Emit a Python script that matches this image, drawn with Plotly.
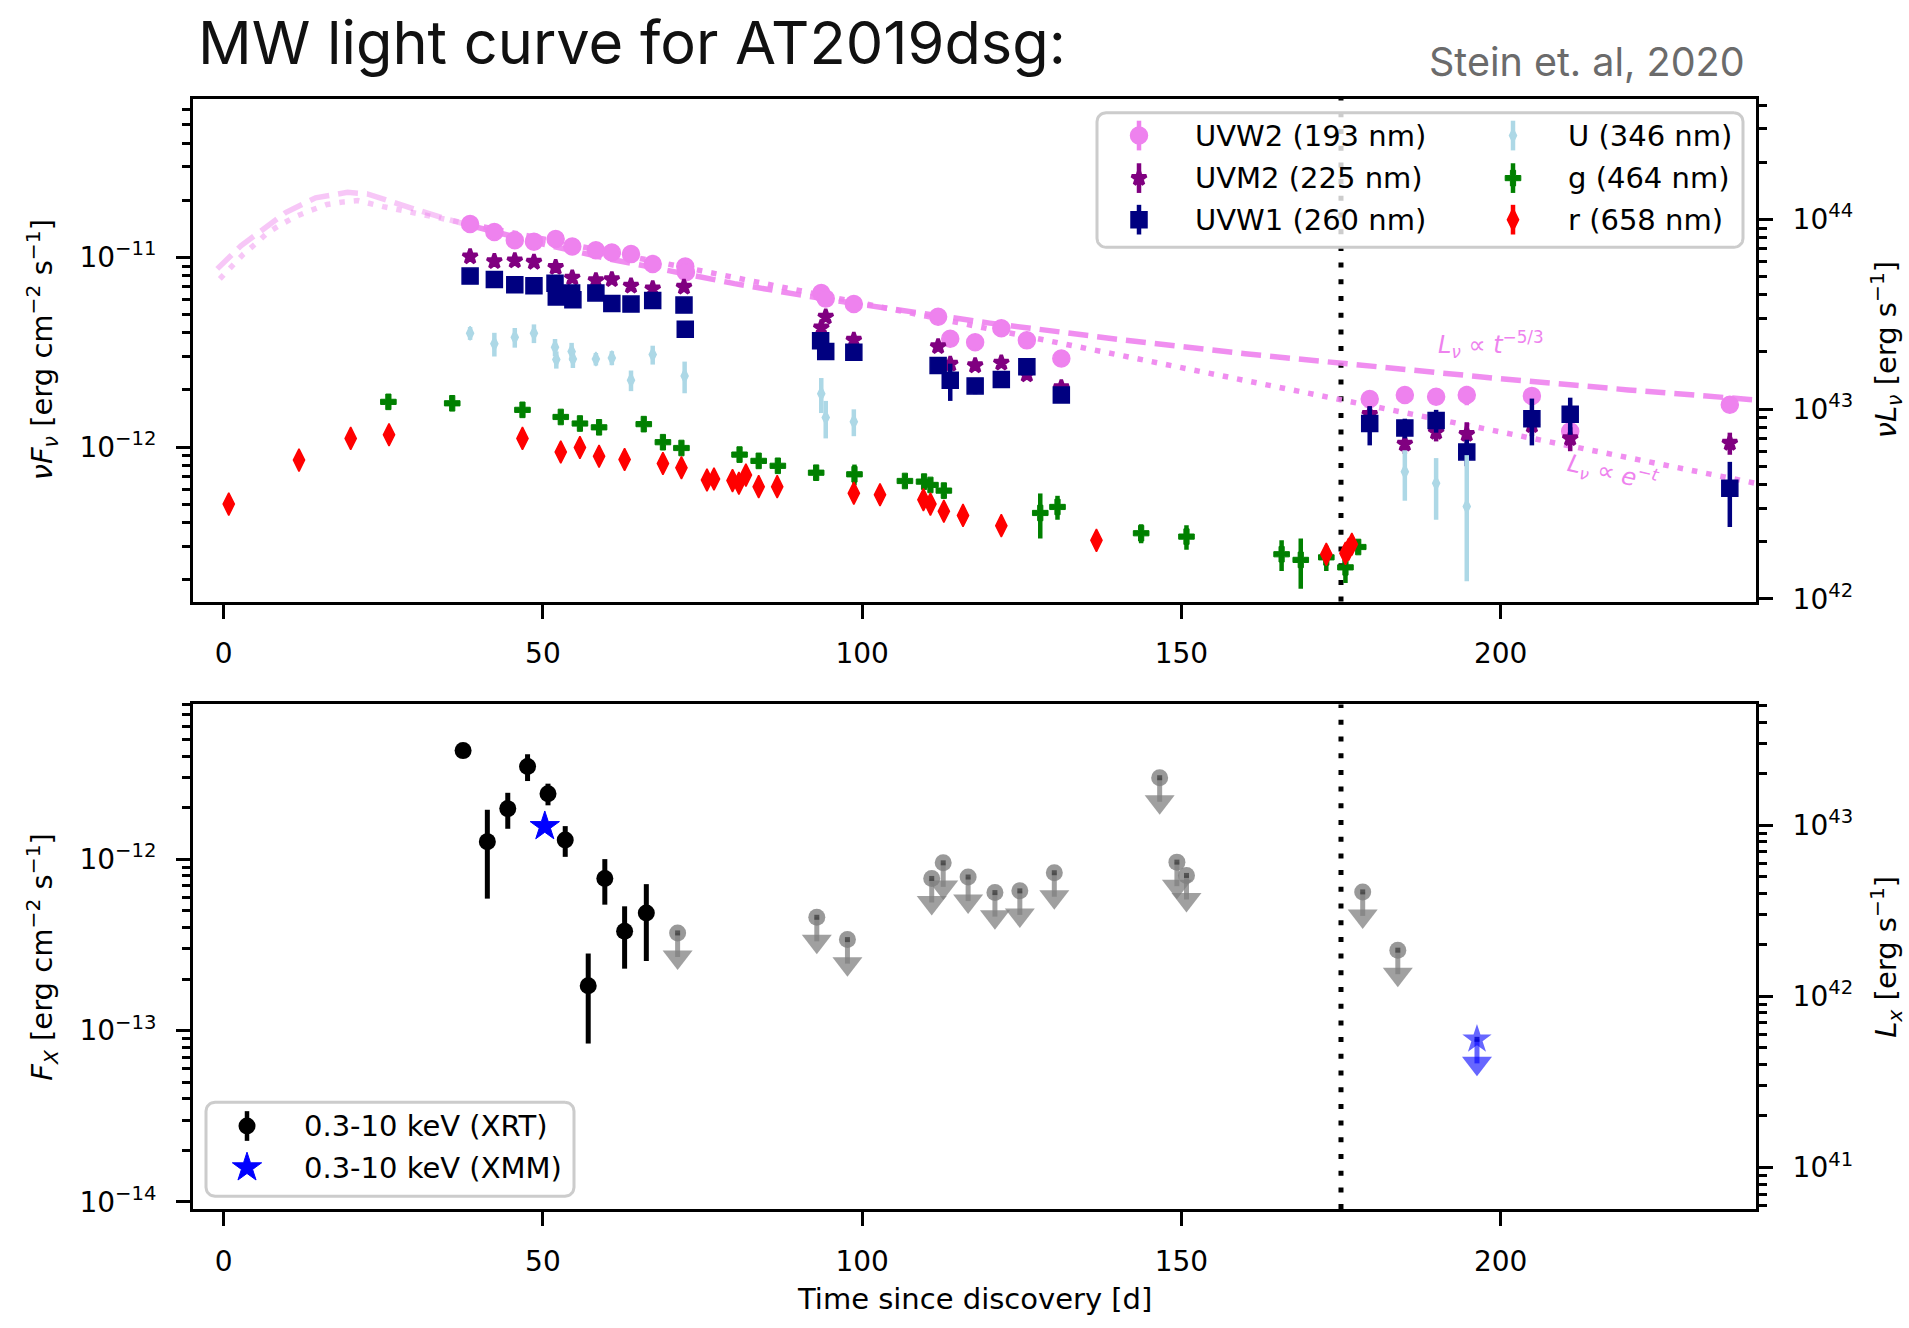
import math
import plotly.graph_objects as go

W, H = 1909, 1328

# ---------------------------------------------------------------------------
# UV / optical photometry of AT2019dsg
# time since discovery [d], nuFnu [1e-12 erg cm^-2 s^-1], 1-sigma errors
# ---------------------------------------------------------------------------
uvw2_t = [38.6, 42.4, 45.6, 48.6, 52.0, 54.6, 58.3, 60.8, 63.8, 67.2, 72.3, 72.4,
          93.6, 94.3, 98.7, 111.9, 113.8, 117.7, 121.8, 125.8, 131.2,
          179.5, 185.0, 189.9, 194.7, 204.9, 210.9, 235.9]
uvw2_f = [15.0, 13.6, 12.3, 12.1, 12.5, 11.4, 10.9, 10.6, 10.4, 9.23, 8.94, 8.35,
          6.49, 6.06, 5.67, 4.86, 3.72, 3.57, 4.23, 3.65, 2.93,
          1.79, 1.88, 1.84, 1.88, 1.86, 1.21, 1.67]
uvw2_e = [0.4, 0.35, 0.3, 0.3, 0.35, 0.3, 0.3, 0.3, 0.3, 0.25, 0.25, 0.25,
          0.2, 0.2, 0.18, 0.15, 0.12, 0.12, 0.13, 0.12, 0.1,
          0.15, 0.12, 0.14, 0.22, 0.17, 0.1, 0.15]

uvm2_t = [38.6, 42.4, 45.6, 48.6, 52.0, 54.6, 58.3, 60.8, 63.8, 67.2, 72.1,
          93.6, 94.3, 98.7, 111.9, 113.8, 117.7, 121.8, 125.8, 131.2,
          179.5, 185.0, 189.9, 194.7, 204.9, 210.9, 235.9]
uvm2_f = [10.1, 9.53, 9.61, 9.45, 8.87, 7.80, 7.55, 7.65, 7.08, 6.84, 6.98,
          4.26, 4.86, 3.67, 3.39, 2.74, 2.69, 2.78, 2.41, 2.06,
          1.49, 1.04, 1.20, 1.17, 1.30, 1.11, 1.05]
uvm2_e = [0.3, 0.3, 0.3, 0.3, 0.4, 0.35, 0.3, 0.3, 0.3, 0.3, 0.3,
          0.25, 0.25, 0.15, 0.2, 0.2, 0.15, 0.15, 0.15, 0.12,
          0.15, 0.12, 0.13, 0.18, 0.16, 0.16, 0.14]

uvw1_t = [38.6, 42.4, 45.6, 48.6, 51.9, 52.1, 54.5, 54.7, 58.3, 60.8, 63.8, 67.2, 72.1, 72.3,
          93.5, 94.3, 98.7, 111.9, 113.8, 117.7, 121.8, 125.8, 131.2,
          179.5, 185.0, 189.9, 194.7, 204.9, 210.9, 235.9]
uvw1_f = [7.96, 7.65, 7.17, 7.08, 7.31, 6.18, 6.49, 5.98, 6.49, 5.71, 5.67, 5.92, 5.60, 4.18,
          3.63, 3.19, 3.16, 2.69, 2.25, 2.10, 2.27, 2.65, 1.88,
          1.33, 1.26, 1.38, 0.942, 1.41, 1.49, 0.607]
uvw1_e = [0.3, 0.3, 0.3, 0.3, 0.5, 0.5, 0.45, 0.45, 0.3, 0.3, 0.3, 0.3, 0.3, 0.3,
          0.3, 0.3, 0.25, 0.25, 0.5, 0.2, 0.2, 0.25, 0.15,
          0.31, 0.15, 0.19, 0.15, 0.39, 0.33, 0.228]

u_t = [38.6, 42.4, 45.6, 48.6, 51.9, 52.1, 54.5, 54.7, 58.3, 60.8, 63.8, 67.2, 72.2,
       93.6, 94.3, 98.7, 185.0, 189.9, 194.7]
u_f = [3.98, 3.50, 3.79, 3.98, 3.36, 2.89, 3.19, 2.91, 2.91, 2.95, 2.25, 3.07, 2.37,
       1.91, 1.43, 1.36, 0.741, 0.644, 0.486]
u_e_hi = [0.31, 0.5, 0.45, 0.45, 0.35, 0.3, 0.35, 0.3, 0.22, 0.25, 0.28, 0.35, 0.45,
          0.4, 0.32, 0.22, 0.22, 0.23, 0.42]
u_e_lo = [0.31, 0.5, 0.45, 0.45, 0.35, 0.3, 0.35, 0.3, 0.22, 0.25, 0.28, 0.35, 0.45,
          0.4, 0.32, 0.22, 0.22, 0.23, 0.29]

g_t = [25.8, 35.8, 46.8, 52.8, 55.8, 58.8, 65.8, 68.8, 71.7, 80.8, 83.8, 86.8, 92.8, 98.8,
       106.7, 109.7, 110.7, 112.8, 127.9, 130.6, 143.7, 150.8, 165.7, 168.7, 172.7, 175.7, 177.7]
g_f = [1.73, 1.70, 1.57, 1.44, 1.33, 1.27, 1.32, 1.06, 0.988, 0.912, 0.845, 0.796, 0.732, 0.718,
       0.662, 0.657, 0.631, 0.589, 0.449, 0.483, 0.351, 0.337, 0.272, 0.254, 0.262, 0.232, 0.297]
g_e = [0.08, 0.08, 0.08, 0.09, 0.08, 0.08, 0.07, 0.08, 0.07, 0.06, 0.06, 0.06, 0.05, 0.09,
       0.05, 0.06, 0.05, 0.05, 0.12, 0.07, 0.04, 0.05, 0.05, 0.075, 0.04, 0.04, 0.02]

r_t = [0.8, 11.8, 19.9, 25.9, 46.8, 52.8, 55.8, 58.8, 62.8, 68.8, 71.7, 75.7, 76.8, 79.7, 80.7,
       81.8, 83.8, 86.7, 98.7, 102.8, 109.6, 110.7, 112.8, 115.8, 121.8, 136.7,
       172.7, 175.7, 176.2, 176.7]
r_f = [0.500, 0.853, 1.11, 1.16, 1.11, 0.941, 0.993, 0.894, 0.859, 0.819, 0.777, 0.670, 0.678,
       0.665, 0.644, 0.711, 0.618, 0.618, 0.571, 0.560, 0.527, 0.500, 0.458, 0.436, 0.385,
       0.322, 0.272, 0.275, 0.289, 0.307]
r_e = [0.04, 0.05, 0.06, 0.06, 0.06, 0.05, 0.05, 0.05, 0.04, 0.05, 0.05, 0.03, 0.03, 0.03, 0.03,
       0.03, 0.03, 0.03, 0.03, 0.03, 0.03, 0.03, 0.03, 0.02, 0.02, 0.02, 0.02, 0.02, 0.02, 0.02]

# UVW2 decline models [1e-12 erg cm^-2 s^-1]
model_t = [-1.0, 2.7, 5.5, 9.7, 14.4, 19.4, 22.5, 25.0, 27.5, 30.0, 35.0, 38.5, 45.0, 50.0,
           60.0, 70.0, 80.0, 90.0, 100.0, 120.0, 140.0, 160.0, 180.0, 200.0, 220.0, 240.0]
powerlaw_f = [8.69, 11.5, 13.5, 17.2, 20.6, 22.0, 21.6, 20.2, 19.0, 17.9, 15.9, 14.75, 12.9, 11.75,
              9.86, 8.41, 7.27, 6.36, 5.63, 4.50, 3.70, 3.10, 2.65, 2.29, 2.00, 1.77]
expdecay_t = [-0.6, 1.1, 3.1, 5.0, 6.9, 9.0, 11.4, 13.7, 16.2, 18.8, 21.0, 25.0, 30.0, 38.5,
              50.0, 60.0, 80.0, 100.0, 120.0, 140.0, 160.0, 180.0, 200.0, 220.0, 240.0]
expdecay_f = [7.7, 8.94, 10.4, 11.8, 13.5, 14.9, 16.5, 17.7, 19.0, 19.6, 19.9, 18.5, 17.1, 14.98,
              12.5, 10.7, 7.83, 5.73, 4.19, 3.07, 2.24, 1.64, 1.20, 0.879, 0.643]
FIRST_UV_DAY = 38.5

# ---------------------------------------------------------------------------
# X-ray, 0.3-10 keV [1e-12 erg cm^-2 s^-1]
# ---------------------------------------------------------------------------
xrt_t = [37.5, 41.3, 44.5, 47.6, 50.8, 53.5, 57.1, 59.7, 62.8, 66.2]
xrt_f = [4.32, 1.27, 1.98, 3.49, 2.42, 1.30, 0.183, 0.774, 0.381, 0.486]
xrt_e = [0.08, 0.68, 0.47, 0.62, 0.35, 0.265, 0.099, 0.23, 0.151, 0.231]
xmm_t = [50.3]
xmm_f = [1.56]
xrt_ul_t = [71.1, 92.9, 97.7, 110.9, 112.7, 116.6, 120.8, 124.7, 130.1, 146.6, 149.3, 150.8,
            178.4, 183.9]
xrt_ul_f = [0.372, 0.459, 0.340, 0.774, 0.955, 0.789, 0.640, 0.655, 0.836, 3.00, 0.964, 0.806,
            0.646, 0.295]
xmm_ul_t = [196.3]
xmm_ul_f = [0.0889]

SECOND_EPOCH_DAY = 175.0
LUM_DEX = 54.80          # log10(4 pi d_L^2) converting flux to luminosity
UNIT = 1e-12

# ---------------------------------------------------------------------------
# geometry (pixels -> paper fractions)
# ---------------------------------------------------------------------------
X_DOM = [193 / W, 1756 / W]
TOP_DOM = [1 - 608 / H, 1 - 100 / H]
BOT_DOM = [1 - 1222 / H, 1 - 712 / H]
XR = [-4.8, 240.0]
TOP_YR = [-12.815, -10.165]
BOT_YR = [-14.043, -11.095]

FONT = "DejaVu Sans"
FS = 28

fig = go.Figure()


def scaled(v):
    return [x * UNIT for x in v]


def sup_label(p):
    s = str(p).replace("-", "\u2212")
    return f"10<sup>{s}</sup>"


def minor_vals(lo_dex, hi_dex):
    out = []
    for d in range(math.floor(lo_dex), math.ceil(hi_dex) + 1):
        for m in range(2, 10):
            v = m * 10.0 ** d
            if lo_dex <= math.log10(v) <= hi_dex:
                out.append(v)
    return out


def major_vals(lo_dex, hi_dex):
    return [d for d in range(math.ceil(lo_dex), math.floor(hi_dex) + 1)]


# ---- model curves (lighter before the first UV epoch) ----
LIGHT = "rgba(238,130,238,0.45)"
DARK = "rgba(238,130,238,0.9)"
for tt, ff, dash in [(model_t, powerlaw_f, "20px,9px"), (expdecay_t, expdecay_f, "5.5px,9px")]:
    early = [(a, b) for a, b in zip(tt, ff) if a <= FIRST_UV_DAY]
    late = [(a, b) for a, b in zip(tt, ff) if a >= FIRST_UV_DAY]
    for seg, col in [(early, LIGHT), (late, DARK)]:
        fig.add_trace(go.Scatter(
            x=[a for a, _ in seg], y=scaled([b for _, b in seg]), mode="lines",
            line=dict(color=col, width=5.5, dash=dash), xaxis="x", yaxis="y",
            showlegend=False, hoverinfo="skip"))

# ---- photometry ----
BANDS = [
    ("UVW2 (193 nm)", uvw2_t, uvw2_f, uvw2_e, uvw2_e, "violet", "circle", 17, 1.5),
    ("UVM2 (225 nm)", uvm2_t, uvm2_f, uvm2_e, uvm2_e, "purple", "star", 11, 3.5),
    ("UVW1 (260 nm)", uvw1_t, uvw1_f, uvw1_e, uvw1_e, "navy", "square", 16, 1.5),
    ("U (346 nm)", u_t, u_f, u_e_hi, u_e_lo, "lightblue", "diamond-tall", 10, 1.5),
    ("g (464 nm)", g_t, g_f, g_e, g_e, "green", "cross", 13, 1.0),
    ("r (658 nm)", r_t, r_f, r_e, r_e, "red", "diamond-tall", 16, 1.5),
]
for name, tt, ff, ehi, elo, col, sym, size, lw in BANDS:
    fig.add_trace(go.Scatter(
        x=tt, y=scaled(ff), mode="markers", name=name, xaxis="x", yaxis="y",
        marker=dict(symbol=sym, size=size, color=col, line=dict(width=lw, color=col)),
        error_y=dict(type="data", symmetric=False, array=scaled(ehi), arrayminus=scaled(elo),
                     thickness=4.5, width=0, color=col),
        showlegend=False))

# ---- X-ray detections ----
fig.add_trace(go.Scatter(
    x=xrt_t, y=scaled(xrt_f), mode="markers", xaxis="x2", yaxis="y2",
    marker=dict(symbol="circle", size=17, color="black"),
    error_y=dict(type="data", array=scaled(xrt_e), thickness=5, width=0, color="black"),
    showlegend=False))
fig.add_trace(go.Scatter(
    x=xmm_t, y=scaled(xmm_f), mode="markers", xaxis="x2", yaxis="y2",
    marker=dict(symbol="star", size=22, color="blue", line=dict(width=1, color="blue")),
    showlegend=False))

# ---- X-ray upper limits (marker, stem and arrow head) ----
ARROW_DROP = 10 ** (-0.1405)


def upper_limits(tt, ff, sym, size, mcol, acol, ccol):
    lim = scaled(ff)
    fig.add_trace(go.Scatter(
        x=tt, y=lim, mode="markers", xaxis="x2", yaxis="y2",
        marker=dict(symbol=sym, size=size, color=mcol),
        error_y=dict(type="data", symmetric=False, array=[0] * len(lim),
                     arrayminus=[v * (1 - ARROW_DROP) for v in lim],
                     thickness=5, width=0, color=acol),
        showlegend=False, hoverinfo="skip"))
    fig.add_trace(go.Scatter(
        x=tt, y=[v * ARROW_DROP for v in lim], mode="markers", xaxis="x2", yaxis="y2",
        marker=dict(symbol="triangle-down", size=26, color=acol),
        showlegend=False, hoverinfo="skip"))
    fig.add_trace(go.Scatter(
        x=tt, y=lim, mode="markers", xaxis="x2", yaxis="y2",
        marker=dict(symbol="square", size=5, color=ccol),
        showlegend=False, hoverinfo="skip"))


upper_limits(xrt_ul_t, xrt_ul_f, "circle", 17, "rgba(128,128,128,0.8)",
             "rgba(128,128,128,0.75)", "rgba(40,40,40,0.6)")
upper_limits(xmm_ul_t, xmm_ul_f, "star", 22, "rgba(0,0,255,0.6)",
             "rgba(0,0,255,0.6)", "rgba(0,0,200,0.8)")

# luminosity axes share the flux scale; an invisible anchor point keeps them drawn
for yax, rng in [("y3", TOP_YR), ("y4", BOT_YR)]:
    fig.add_trace(go.Scatter(
        x=[XR[0]], y=[10 ** (rng[0] + LUM_DEX)], mode="markers",
        xaxis="x" if yax == "y3" else "x2", yaxis=yax,
        marker=dict(size=1, opacity=0), showlegend=False, hoverinfo="skip"))

# ---- legends drawn on a pixel-space overlay ----
def rounded_box(x0, y0, x1, y1, r, n=8):
    pts = []
    for cx, cy, a0 in [(x1 - r, y0 + r, -90), (x1 - r, y1 - r, 0),
                       (x0 + r, y1 - r, 90), (x0 + r, y0 + r, 180)]:
        for k in range(n + 1):
            a = math.radians(a0 + 90 * k / n)
            pts.append((cx + r * math.cos(a), cy + r * math.sin(a)))
    pts.append(pts[0])
    return [p[0] for p in pts], [p[1] for p in pts]


annotations = []


def add_legend(box, entries):
    bx, by = rounded_box(*box, r=9)
    fig.add_trace(go.Scatter(
        x=bx, y=by, mode="lines", fill="toself", fillcolor="rgba(255,255,255,0.8)",
        line=dict(color="#cccccc", width=3), xaxis="x5", yaxis="y5",
        showlegend=False, hoverinfo="skip"))
    for (mx, tx, yy), (label, col, sym, size, lw, bar) in entries:
        fig.add_trace(go.Scatter(
            x=[mx], y=[yy], mode="markers", xaxis="x5", yaxis="y5",
            marker=dict(symbol=sym, size=size, color=col, line=dict(width=lw, color=col)),
            error_y=dict(type="data", array=[bar], thickness=4.5, width=0, color=col,
                         visible=bar > 0),
            showlegend=False, hoverinfo="skip"))
        annotations.append(dict(
            x=tx / W, y=1 - yy / H, xref="paper", yref="paper", text=label,
            showarrow=False, xanchor="left", yanchor="middle",
            font=dict(family=FONT, size=29, color="black")))


top_rows = [137, 180, 222]
top_entries = []
for i, (name, _, _, _, _, col, sym, size, lw) in enumerate(BANDS):
    col_idx, row_idx = divmod(i, 3)
    mx, tx = [(1139, 1193), (1513, 1566)][col_idx]
    top_entries.append(((mx, tx, top_rows[row_idx]), (name, col, sym, size, lw, 15)))
add_legend((1097, 114, 1743, 250), top_entries)
add_legend((206, 1114, 574, 1209), [
    ((247, 302, 1138), ("0.3-10 keV (XRT)", "black", "circle", 17, 0, 15)),
    ((247, 302, 1180), ("0.3-10 keV (XMM)", "blue", "star", 22, 1, 0)),
])

# ---- axes ----
tickfont = dict(family=FONT, size=FS, color="black")
common = dict(showline=True, linecolor="black", linewidth=3, ticks="outside", ticklen=14,
              tickwidth=3, tickcolor="black", showgrid=False, zeroline=False,
              tickfont=tickfont, ticklabelstandoff=14)


def log_axis(rng, **kw):
    majors = major_vals(*rng)
    return dict(common, type="log", range=rng, tickmode="array",
                tickvals=[10.0 ** p for p in majors], ticktext=[sup_label(p) for p in majors],
                minor=dict(tickmode="array", tickvals=minor_vals(*rng), ticks="outside",
                           ticklen=8, tickwidth=2.5, tickcolor="black", showgrid=False),
                **kw)


xcommon = dict(common, range=XR, tickmode="array", tickvals=[0, 50, 100, 150, 200],
               mirror=True, ticklabelstandoff=11)
top_lum = [TOP_YR[0] + LUM_DEX, TOP_YR[1] + LUM_DEX]
bot_lum = [BOT_YR[0] + LUM_DEX, BOT_YR[1] + LUM_DEX]

fig.update_layout(
    width=W, height=H, margin=dict(l=0, r=0, t=0, b=0), autosize=False,
    paper_bgcolor="white", plot_bgcolor="rgba(0,0,0,0)", showlegend=False,
    xaxis=dict(xcommon, domain=X_DOM, anchor="y"),
    yaxis=log_axis(TOP_YR, domain=TOP_DOM, anchor="x", mirror=True),
    yaxis3=log_axis(top_lum, overlaying="y", side="right", anchor="x"),
    xaxis2=dict(xcommon, domain=X_DOM, anchor="y2"),
    yaxis2=log_axis(BOT_YR, domain=BOT_DOM, anchor="x2", mirror=True),
    yaxis4=log_axis(bot_lum, overlaying="y2", side="right", anchor="x2"),
    xaxis5=dict(domain=[0, 1], range=[0, W], visible=False, anchor="y5", fixedrange=True),
    yaxis5=dict(domain=[0, 1], range=[H, 0], visible=False, anchor="x5", fixedrange=True),
    shapes=[
        dict(type="line", xref="x", yref="y domain", x0=SECOND_EPOCH_DAY, x1=SECOND_EPOCH_DAY,
             y0=0, y1=1, line=dict(color="black", width=5, dash="5px,11.7px"), layer="below"),
        dict(type="line", xref="x2", yref="y2 domain", x0=SECOND_EPOCH_DAY, x1=SECOND_EPOCH_DAY,
             y0=0, y1=1, line=dict(color="black", width=5, dash="5px,11.7px"), layer="below"),
    ],
)


def text_px(x, y, text, size, color="black", family=FONT, xanchor="center", angle=0):
    annotations.append(dict(x=x / W, y=1 - y / H, xref="paper", yref="paper", text=text,
                            showarrow=False, xanchor=xanchor, yanchor="middle", textangle=angle,
                            font=dict(family=family, size=size, color=color)))


text_px(196, 42, "MW light curve for AT2019dsg:", 59.5, "#111111", "Inter", "left")
text_px(1747, 63, "Stein et. al, 2020", 39.5, "#6b6b6b", "Inter", "right")
text_px(42, 354, "<i>\u03bdF<sub>\u03bd</sub></i> [erg cm<sup>\u22122</sup> s<sup>\u22121</sup>]", 29, angle=-90)
text_px(1886, 354, "<i>\u03bdL<sub>\u03bd</sub></i> [erg s<sup>\u22121</sup>]", 29, angle=-90)
text_px(42, 967, "<i>F<sub>X</sub></i> [erg cm<sup>\u22122</sup> s<sup>\u22121</sup>]", 29, angle=-90)
text_px(1886, 967, "<i>L<sub>x</sub></i> [erg s<sup>\u22121</sup>]", 29, angle=-90)
text_px(974, 1313, "Time since discovery [d]", 29)
text_px(1491, 348, "<i>L<sub>\u03bd</sub></i> \u221d <i>t</i><sup>\u22125/3</sup>", 24, "violet")
text_px(1613, 478, "<i>L<sub>\u03bd</sub></i> \u221d <i>e</i><sup>\u2212<i>t</i></sup>", 24, "violet",
        angle=13)

fig.update_layout(annotations=annotations)
fig.write_html("out.html")
